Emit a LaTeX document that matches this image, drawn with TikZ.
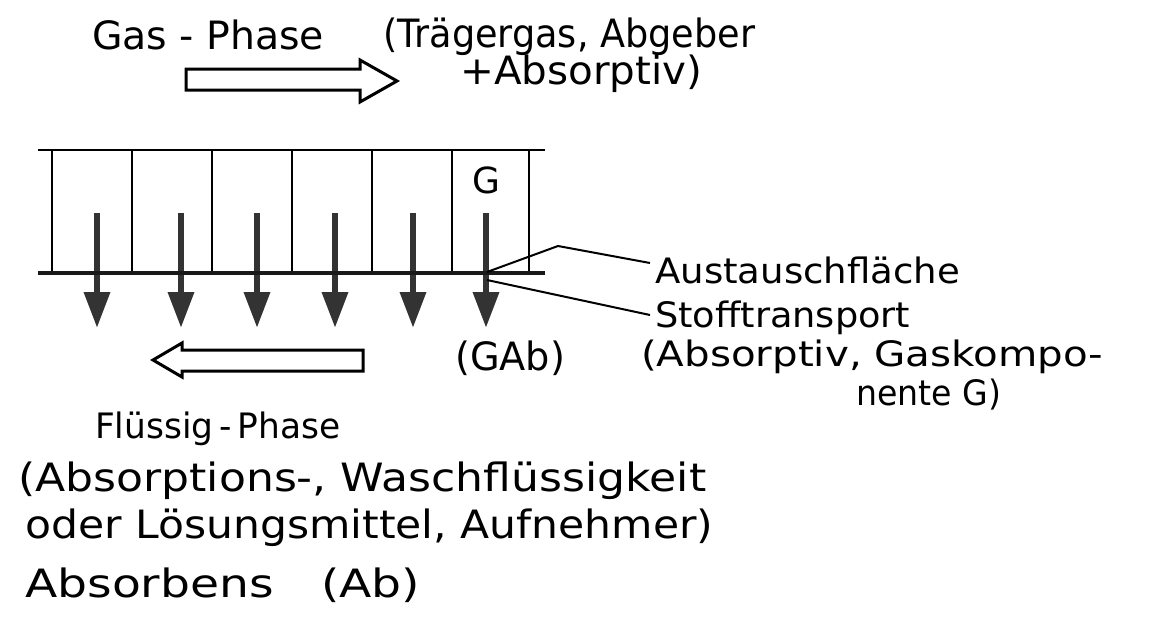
\documentclass[tikz,border=0pt]{standalone}
\usepackage{fontspec}
\usepackage{graphicx}
\setmainfont{DejaVu Sans}
\usetikzlibrary{arrows.meta}
% stretch a line of text horizontally to a given width, keeping its height
\newcommand{\wfit}[2]{\resizebox{#1}{\height}{#2}}

\begin{document}
\begin{tikzpicture}[x=1pt,y=-1pt,
  lbl/.style={anchor=base west, inner sep=0pt, font=\fontsize{39}{44}\selectfont},
  lblr/.style={lbl, font=\fontsize{35}{40}\selectfont},
  boxline/.style={line width=2.6pt},
  interface/.style={line width=4.5pt, draw=black!90},
  divider/.style={line width=2pt},
  flow/.style={line width=6.5pt, draw=black!80, -{Triangle[length=36pt,width=25pt]}},
  hollow/.style={line width=3pt, line join=miter, fill=white},
  leader/.style={line width=2pt}]

\useasboundingbox (0,0) rectangle (1164,624);

% ---- gas phase heading and flow direction
\node[lbl] (gas) at (92,49) {\wfit{232pt}{Gas - Phase}};
\node[lbl] (gasinfo) at (383,47) {\wfit{372pt}{(Trägergas, Abgeber}};
\node[lbl] (gasinfob) at (460,84) {\wfit{242pt}{+Absorptiv)}};
\draw[hollow] (186,69) -- (360,69) -- (360,60) -- (397,81) -- (360,102)
  -- (360,90) -- (186,90) -- cycle;

% ---- gas cells above the interface
\draw[boxline] (38,150) -- (545,150);
\foreach \x in {52,132,212,292,372,452,529}
  \draw[divider] (\x,150) -- (\x,272);
\node[inner sep=0pt, font=\fontsize{36}{40}\selectfont] (g) at (486,180) {G};

% ---- transport of the gas component through the interface
\foreach \x [count=\i] in {97,181,257,335,413,486} {
  \coordinate (s\i) at (\x,213);
  \coordinate (e\i) at (\x,328);
  \draw[flow] (s\i) -- (e\i);
}
\draw[interface] (38,273) -- (545,273);

% ---- labels on the right with leader lines
\node[lblr] (aus) at (655,283) {\wfit{305pt}{Austauschfläche}};
\node[lblr] (stoff) at (655,327) {\wfit{255pt}{Stofftransport}};
\node[lblr] (stoffb) at (641,366) {\wfit{462pt}{(Absorptiv, Gaskompo-}};
\node[lblr] (stoffc) at (856,405) {\wfit{145pt}{nente G)}};
\coordinate (ifA) at (487,272);
\coordinate (ifB) at (487,280);
\coordinate (bend) at (558,246);
\coordinate (ausin) at (650,263);
\coordinate (stoffin) at (650,315);
\draw[leader] (ifA) -- (bend) -- (ausin);
\draw[leader] (ifB) -- (stoffin);

\node[lbl] (gab) at (455,370) {\wfit{110pt}{(GAb)}};

% ---- liquid phase flow direction and description
\draw[hollow] (363,350) -- (182,350) -- (182,343) -- (153,360) -- (182,377)
  -- (182,371) -- (363,371) -- cycle;
\node[lblr] (liq) at (95,438) {\wfit{245pt}{Flüssig\,-\,Phase}};
\node[lbl] (liqb) at (18,491) {\wfit{688pt}{(Absorptions-, Waschflüssigkeit}};
\node[lbl] (liqc) at (25,538) {\wfit{688pt}{oder Lösungsmittel, Aufnehmer)}};
\node[lbl] (absb) at (25,597) {\wfit{395pt}{Absorbens\quad(Ab)}};
\end{tikzpicture}
\end{document}
